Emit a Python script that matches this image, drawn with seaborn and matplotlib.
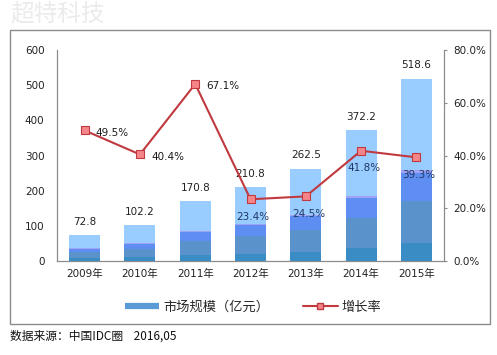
import numpy as np
import matplotlib
matplotlib.use('Agg')
import matplotlib.pyplot as plt
import seaborn as sns
from matplotlib.lines import Line2D
from matplotlib.patches import Rectangle
from matplotlib.colors import to_rgb

# 数据
years = ['2009年', '2010年', '2011年', '2012年', '2013年', '2014年', '2015年']
market = [72.8, 102.2, 170.8, 210.8, 262.5, 372.2, 518.6]
growth = [49.5, 40.4, 67.1, 23.4, 24.5, 41.8, 39.3]
growth_labels = ['49.5%', '40.4%', '67.1%', '23.4%', '24.5%', '41.8%', '39.3%']

sns.set_style('white')
plt.rcParams['font.family'] = ['DejaVu Sans', 'Noto Sans CJK SC']

fig = plt.figure(figsize=(4.97, 3.55), dpi=100)
ax = fig.add_axes([57 / 497, 94 / 355, 387 / 497, 211 / 355])

sns.barplot(x=years, y=market, ax=ax, width=0.56, color='#99CCFF', zorder=2)

# 柱子的分层配色
bands = [(0.10, '#3A8CC4'), (0.33, '#5A93CB'), (0.48, '#5F8EF2'),
         (0.50, '#A0A3F5'), (1.00, '#99CCFF')]
n = 200
img = np.zeros((n, 1, 3))
for i in range(n):
    f = (i + 0.5) / n
    for lim, c in bands:
        if f <= lim:
            img[i, 0] = to_rgb(c)
            break
for p in ax.patches:
    x0, w, h = p.get_x(), p.get_width(), p.get_height()
    im = ax.imshow(img, extent=(x0, x0 + w, 0, h), origin='lower',
                   aspect='auto', zorder=3, interpolation='nearest')
    im.set_clip_path(p)

ax.set_xlim(-0.5, 6.5)
ax.set_ylim(0, 600)
ax.set_yticks(range(0, 601, 100))
ax.tick_params(axis='y', length=0, pad=9, labelsize=7.5, colors='#222222')
ax.tick_params(axis='x', length=0, pad=6, labelsize=7.5, colors='#222222')
for s in ['top', 'right']:
    ax.spines[s].set_visible(False)
for s in ['left', 'bottom']:
    ax.spines[s].set_color('#8c8c8c')
    ax.spines[s].set_linewidth(0.9)

ax.bar_label(ax.containers[0], labels=[str(v) for v in market], padding=6,
             fontsize=7.5, color='#222222')

# 增长率折线
ax2 = ax.twinx()
sns.lineplot(x=np.arange(len(years)), y=growth, ax=ax2, color='#C0393F',
             linewidth=1.5, marker='s', markersize=6,
             markerfacecolor='#F4868A', markeredgecolor='#C0393F',
             markeredgewidth=0.8, zorder=5)
ax2.set_ylim(0, 80)
ax2.set_yticks(range(0, 81, 20))
ax2.set_yticklabels(['%.1f%%' % v for v in range(0, 81, 20)])
ax2.tick_params(axis='y', length=2.5, width=0.8, pad=4, labelsize=7.5,
                colors='#222222')
ax2.tick_params(axis='y', color='#8c8c8c')
for s in ['top', 'left', 'bottom']:
    ax2.spines[s].set_visible(False)
ax2.spines['right'].set_color('#8c8c8c')
ax2.spines['right'].set_linewidth(0.9)
ax2.set_xlim(-0.5, 6.5)
ax2.set_ylabel('')

for i, (v, t) in enumerate(zip(growth, growth_labels)):
    if i < 3:
        ax2.annotate(t, (i, v), xytext=(8, -1.5), textcoords='offset points',
                     ha='left', va='center', fontsize=7.5, color='#1a1a1a')
    else:
        ax2.annotate(t, (i, v), xytext=(2, -12.5), textcoords='offset points',
                     ha='center', va='center', fontsize=7.5, color='#1F3864')

# 图例
handles = [Line2D([], [], color='#5B9BD5', lw=4.5, solid_capstyle='butt'),
           Line2D([], [], color='#C0393F', lw=1.5, marker='s', markersize=5,
                  markerfacecolor='#F4868A', markeredgecolor='#C0393F')]
fig.legend(handles, ['市场规模（亿元）', '增长率'], loc='center',
           bbox_to_anchor=(253 / 497, 1 - 307 / 355), ncol=2, frameon=False,
           prop={'family': ['Noto Sans CJK SC'], 'size': 9.5},
           handlelength=2.6, columnspacing=2.6, handletextpad=0.3)

# 外框
fig.patches.append(Rectangle((10 / 497, 1 - 324 / 355), 480 / 497, 294 / 355,
                             transform=fig.transFigure, fill=False,
                             edgecolor='#8c8c8c', linewidth=1))

fig.text(10 / 497, 1 - 15 / 355, '超特科技', fontsize=17, color='#EBEBEB',
         va='center', ha='left', family=['Noto Sans CJK SC'])
fig.text(10 / 497, 1 - 336 / 355, '数据来源：中国IDC圈    2016,05', fontsize=8.5,
         color='#111111', va='center', ha='left',
         family=['Noto Sans CJK SC', 'DejaVu Sans'])

fig.savefig('out.png', dpi=100)
